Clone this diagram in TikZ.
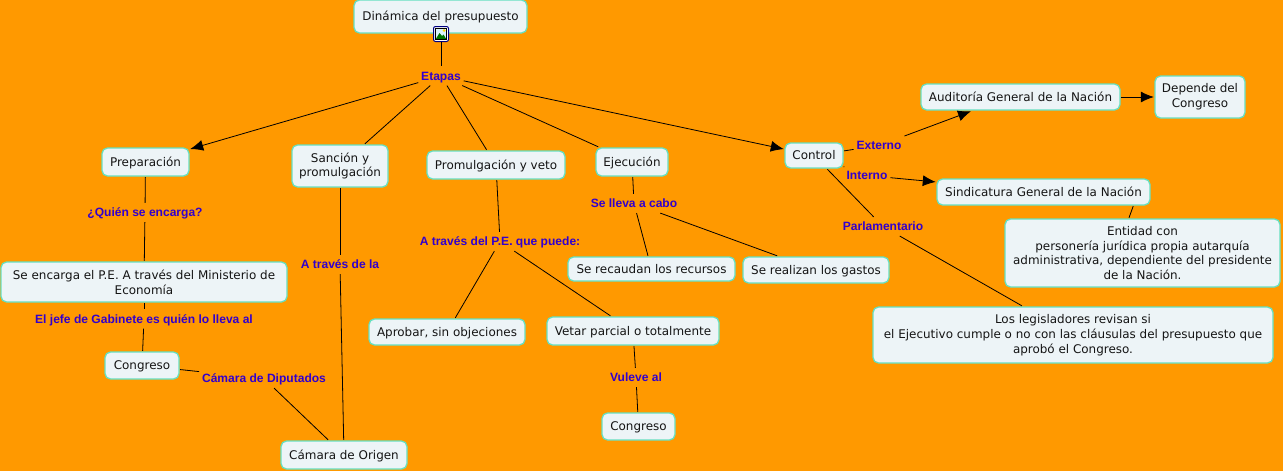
\documentclass[tikz,border=0pt]{standalone}
\usepackage{fontspec}
\setmainfont{DejaVu Sans}
\newfontfamily\lblfont{Liberation Sans}[Scale=1]
\usetikzlibrary{arrows.meta}
\definecolor{bgc}{HTML}{FF9900}
\definecolor{boxc}{HTML}{EDF4F7}
\definecolor{edgec}{HTML}{66E0C0}
\definecolor{lblc}{HTML}{3300CC}
\newcommand{\ph}{\vphantom{Áy}}
\tikzset{
  x=1pt,y=-1pt,
  box/.style={draw=edgec,line width=1.3pt,fill=boxc,rounded corners=5.5pt,inner sep=0pt,outer sep=1.2pt,align=center,text=black!92,
    font=\fontsize{11.95}{14.7}\selectfont},
  lbl/.style={text=lblc,inner sep=1pt,outer sep=2pt,font=\lblfont\bfseries\fontsize{12.05}{13}\selectfont},
  conn/.style={draw=black,line width=0.8pt},
  arr/.style={conn,-{Latex[length=13pt,width=11pt]}},
}
\newcommand{\bx}[6]{\node[box,minimum width=#4 pt-#2 pt,minimum height=#5 pt-#3 pt] (#1) at ({(#2+#4)/2},{(#3+#5)/2}) {#6};}
\begin{document}
\begin{tikzpicture}
\fill[bgc] (0,0) rectangle (1283,471);
\useasboundingbox (0,0) rectangle (1283,471);
\bx{din}{354}{0}{527}{33}{\ph Dinámica del presupuesto}
\bx{pre}{102}{148}{189}{176}{\ph Preparación}
\bx{san}{292}{145}{388}{187}{Sanción y\\promulgación}
\bx{pro}{427}{151}{565}{179}{\ph Promulgación y veto}
\bx{eje}{596}{148}{668}{176}{\ph Ejecución}
\bx{con}{785}{143}{843}{168}{\ph Control}
\bx{aud}{921}{84}{1120}{110}{\ph Auditoría General de la Nación}
\bx{dep}{1155}{76}{1245}{118}{Depende del\\Congreso}
\bx{sin}{937}{179}{1150}{205}{\ph Sindicatura General de la Nación}
\bx{ent}{1005}{219}{1280}{287}{Entidad con\\personería jurídica propia autarquía\\administrativa, dependiente del presidente\\de la Nación.}
\bx{leg}{873}{307}{1273}{363}{Los legisladores revisan si\\el Ejecutivo cumple o no con las cláusulas del presupuesto que\\aprobó el Congreso.}
\bx{gas}{743}{257}{889}{283}{\ph Se realizan los gastos}
\bx{rec}{568}{257}{735}{281}{\ph Se recaudan los recursos}
\bx{apr}{369}{319}{525}{345}{\ph Aprobar, sin objeciones}
\bx{vet}{547}{317}{719}{345}{\ph Vetar parcial o totalmente}
\bx{cgb}{602}{413}{675}{440}{\ph Congreso}
\bx{enc}{1}{262}{287}{302}{Se encarga el P.E. A través del Ministerio de\\Economía}
\bx{cga}{105}{352}{179}{379}{\ph Congreso}
\bx{ori}{281}{441}{407}{469}{\ph Cámara de Origen}
\node[lbl] (eta) at (441,76) {\ph Etapas};
\node[lbl] (qui) at (145,212.5) {\ph ¿Quién se encarga?};
\node[lbl] (jef) at (144,319) {\ph El jefe de Gabinete es quién lo lleva al};
\node[lbl] (atl) at (340,264.5) {\ph A través de la};
\node[lbl] (atp) at (500,241.5) {\ph A través del P.E. que puede:};
\node[lbl] (lle) at (634,203.5) {\ph Se lleva a cabo};
\node[lbl] (ext) at (879,145.5) {\ph Externo};
\node[lbl] (int) at (867,175.5) {\ph Interno};
\node[lbl] (par) at (883,226.5) {\ph Parlamentario};
\node[lbl] (dip) at (264,378.5) {\ph Cámara de Diputados};
\node[lbl] (vul) at (636,377.5) {\ph Vuleve al};
% icon
\node[draw=blue!50!black,fill=white,line width=1pt,rounded corners=2pt,minimum width=15pt,minimum height=15pt,inner sep=0pt,outer sep=0.5pt] (ico) at (441,34) {};
\fill[cyan!15!white] (435.5,28.5) rectangle (446.5,39.5);
\fill[green!45!black] (435.5,39.5) -- (439.5,33) -- (442,36) -- (443.5,34.5) -- (446.5,39.5) -- cycle;
\fill[yellow!70!orange] (444,30.5) circle (1.5);
\draw[black,line width=0.4pt] (435.5,28.5) rectangle (446.5,39.5);
\draw[conn] (ico) -- (eta);
\draw[arr] (eta) -- (pre);
\draw[conn] (eta) -- (san);
\draw[conn] (eta) -- (pro);
\draw[conn] (eta) -- (eje);
\draw[arr] (eta) -- (con);
\draw[conn] (pre) -- (qui);
\draw[conn] (qui) -- (enc);
\draw[conn] (enc) -- (jef);
\draw[conn] (jef) -- (cga);
\draw[conn] (cga) -- (dip);
\draw[conn] (dip) -- (ori);
\draw[conn] (san) -- (atl);
\draw[conn] (atl) -- (ori);
\draw[conn] (pro) -- (atp);
\draw[conn] (atp) -- (apr);
\draw[conn] (atp) -- (vet);
\draw[conn] (vet) -- (vul);
\draw[conn] (vul) -- (cgb);
\draw[conn] (eje) -- (lle);
\draw[conn] (lle) -- (rec);
\draw[conn] (lle) -- (gas);
\draw[conn] (con) -- (ext);
\draw[arr] (ext) -- (aud.196);
\draw[arr] (aud) -- (dep);
\draw[conn] (con) -- (int);
\draw[arr] (int) -- (sin);
\draw[conn] (sin.-9) -- (ent.111);
\draw[conn] (con) -- (par);
\draw[conn] (par) -- (leg);
\end{tikzpicture}
\end{document}
